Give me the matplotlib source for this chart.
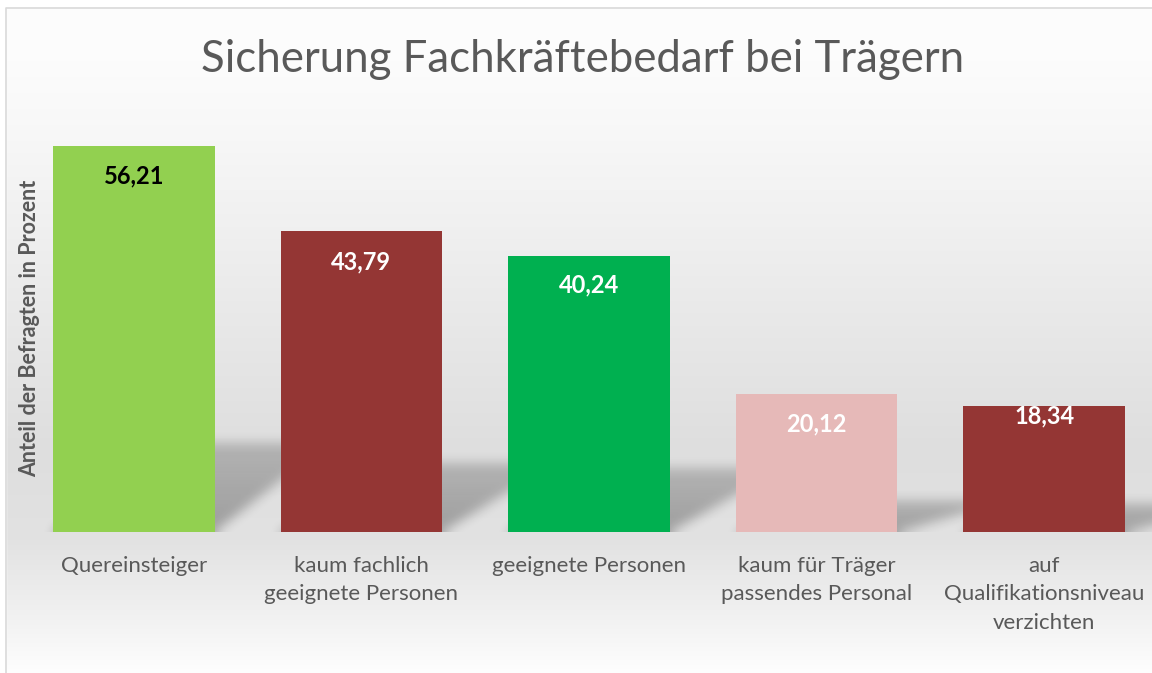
import numpy as np
import matplotlib
matplotlib.use('Agg')
import matplotlib.pyplot as plt

# data
categories = ['Quereinsteiger', 'kaum fachlich\ngeeignete Personen', 'geeignete Personen',
              'kaum für Träger\npassendes Personal', 'auf\nQualifikationsniveau\nverzichten']
values = [56.21, 43.79, 40.24, 20.12, 18.34]
value_labels = ['56,21', '43,79', '40,24', '20,12', '18,34']
bar_colors = ['#92d050', '#943634', '#00b050', '#e6b9b8', '#943634']
label_colors = ['black', 'white', 'white', 'white', 'white']
label_offsets = [-30, -31, -29, -30, -10]  # pixels below bar top

W, H = 1152, 673
fig = plt.figure(figsize=(W / 100, H / 100), dpi=100)
plt.rcParams['font.family'] = ['Lato', 'DejaVu Sans']

# background gradient (white -> light gray -> white)
bg = fig.add_axes([0, 0, 1, 1], zorder=0)
rows = np.arange(H)
stop_y = [0, 60, 140, 300, 450, 540, 620, 673]
stop_v = [253, 252, 247, 234, 222, 226, 242, 254]
grey = np.interp(rows, stop_y, stop_v) / 255.0
img = np.stack([grey] * 3, axis=1)[:, None, :]
bg.imshow(img, aspect='auto', extent=(0, W, H, 0))
bg.set_xlim(0, W)
bg.set_ylim(H, 0)
bg.axis('off')
# chart frame (left and top edge visible)
bg.fill_between([0, W], 0, 7.5, color='white')
bg.fill_between([0, 5.5], 0, H, color='white')
bg.plot([6, 6, W], [H, 8, 8], color='#d9d9d9', lw=1.2)

# main axes
ymax = 60.0
px_per_unit = 386 / 56.21
ax_bottom = (H - 532) / H
ax_height = ymax * px_per_unit / H
ax = fig.add_axes([20 / W, ax_bottom, 1138 / W, ax_height], zorder=1)
ax.patch.set_alpha(0)

n = len(values)
x = np.arange(n)
width = 0.71

# perspective shadows, blurred
nx, ny = 1138, int(round(ymax * px_per_unit))
gx = -0.5 + (np.arange(nx) + 0.5) / nx * n
gy = ymax * (1 - (np.arange(ny) + 0.5) / ny)
XX, YY = np.meshgrid(gx, gy)
mask = np.zeros_like(XX)
for i, v in enumerate(values):
    sh = 0.23 * v
    t = np.clip(YY / sh, 0, None)
    shift = t * 0.5
    inside = (YY <= sh) & (XX >= i - width / 2 + shift) & (XX <= i + width / 2 + shift)
    mask = np.maximum(mask, inside * (1 - 0.35 * t))


def box_blur(a, r, axis):
    c = np.cumsum(np.pad(a, [(r + 1, r) if k == axis else (0, 0) for k in range(2)], mode='edge'), axis=axis)
    if axis == 0:
        return (c[2 * r + 1:] - c[:-2 * r - 1]) / (2 * r + 1)
    return (c[:, 2 * r + 1:] - c[:, :-2 * r - 1]) / (2 * r + 1)


for _ in range(2):
    mask = box_blur(mask, 6, 0)
    mask = box_blur(mask, 6, 1)
shadow = np.zeros((ny, nx, 4))
shadow[..., 3] = mask * 0.3
ax.imshow(shadow, extent=(-0.5, n - 0.5, 0, ymax), aspect='auto', zorder=1, interpolation='bilinear')

ax.bar(x, values, width=width, color=bar_colors, zorder=2)

for i, v in enumerate(values):
    ax.annotate(value_labels[i], (x[i], v), xytext=(0, label_offsets[i]), textcoords='offset pixels',
                ha='center', va='center', fontsize=17, fontweight='bold', color=label_colors[i], zorder=3)

ax.set_xlim(-0.5, n - 0.5)
ax.set_ylim(0, ymax)
ax.set_xticks(x)
ax.set_xticklabels(categories, fontsize=16, color='#595959', linespacing=1.55)
ax.tick_params(axis='x', length=0, pad=17)
ax.set_yticks([])
for s in ax.spines.values():
    s.set_visible(False)

fig.text(583 / W, 1 - 60 / H, 'Sicherung Fachkräftebedarf bei Trägern', ha='center', va='center',
         fontsize=31.5, color='#595959')
fig.text(30 / W, 1 - 328 / H, 'Anteil der Befragten in Prozent', ha='center', va='center',
         rotation=90, fontsize=15.5, fontweight='bold', color='#595959')

fig.savefig('out.png', dpi=100)
